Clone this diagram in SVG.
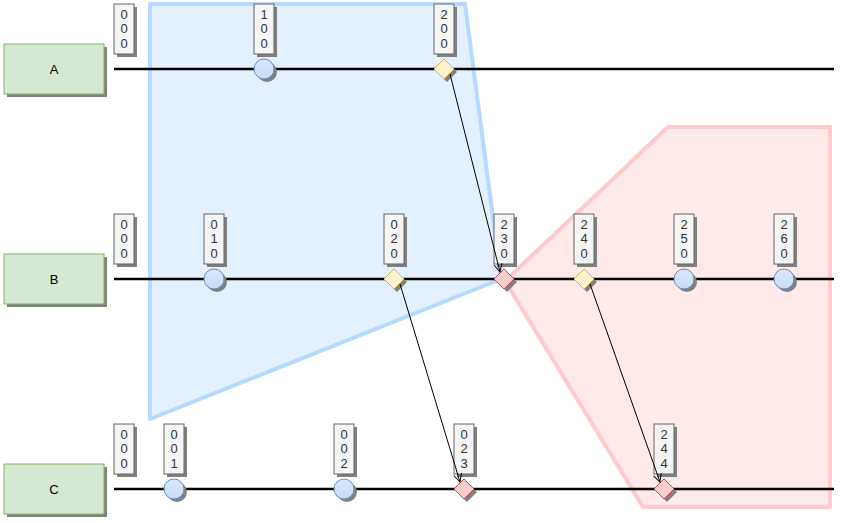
<svg xmlns="http://www.w3.org/2000/svg" width="841" height="523" viewBox="0 0 841 523">
<defs>
<style>
.lane{fill:#d5e8d4;stroke:#82b366;stroke-width:1}
.sh{fill:#808080}
.lab{fill:#f5f5f5;stroke:#666666;stroke-width:1}
.t{font-family:"Liberation Sans",Arial,sans-serif;font-size:13px;fill:#333333;text-anchor:middle}
.tl{font-family:"Liberation Sans",Arial,sans-serif;font-size:13px;fill:#000000;text-anchor:middle}
.tline{stroke:#000000;stroke-width:2.5;fill:none}
.circ{fill:url(#cg);stroke:#6c8ebf;stroke-width:1}
.dy{fill:#fff2cc;stroke:#d6b656;stroke-width:1}
.dr{fill:#f8cecc;stroke:#b85450;stroke-width:1}
.edge{stroke:#000000;stroke-width:1;fill:none}
</style>
<linearGradient id="cg" x1="0" y1="0" x2="0" y2="1">
<stop offset="0" stop-color="#dae8fc"/>
<stop offset="1" stop-color="#c8dbf5"/>
</linearGradient>
<marker id="arr" markerWidth="10" markerHeight="10" refX="9" refY="5" orient="auto" markerUnits="userSpaceOnUse">
<path d="M1,1 L9,5 L1,9" fill="none" stroke="#000" stroke-width="1"/>
</marker>
</defs>
<rect width="841" height="523" fill="#ffffff"/>
<g id="regions">
<polygon id="blueRegion" points="150,4 465,4 501,279 150,419" fill="#e3f1fe" stroke="#b6d9fd" stroke-width="4" stroke-linejoin="round"/>
<polygon id="redRegion" points="668,127 830,127 830,507 643,507 505,281" fill="#ffe9e9" stroke="#ffcaca" stroke-width="4" stroke-linejoin="round"/>
</g>
<g id="laneA">
<rect class="sh" x="7" y="47" width="100" height="50"/>
<rect class="lane" x="4" y="44" width="100" height="50"/>
<text class="tl" x="54" y="74">A</text>
<line class="tline" x1="114" y1="69" x2="834" y2="69"/>
</g>
<g id="laneB">
<rect class="sh" x="7" y="257" width="100" height="50"/>
<rect class="lane" x="4" y="254" width="100" height="50"/>
<text class="tl" x="54" y="284">B</text>
<line class="tline" x1="114" y1="279" x2="834" y2="279"/>
</g>
<g id="laneC">
<rect class="sh" x="7" y="467" width="100" height="50"/>
<rect class="lane" x="4" y="464" width="100" height="50"/>
<text class="tl" x="54" y="494">C</text>
<line class="tline" x1="114" y1="489" x2="834" y2="489"/>
</g>
<!-- Lane A events -->
<g id="A000"><rect class="sh" x="117" y="7" width="20" height="50"/><rect class="lab" x="114" y="4" width="20" height="50"/><text class="t" x="124" y="18.5">0</text><text class="t" x="124" y="33">0</text><text class="t" x="124" y="47.5">0</text></g>
<g id="A100"><rect class="sh" x="257" y="7" width="20" height="50"/><rect class="lab" x="254" y="4" width="20" height="50"/><text class="t" x="264" y="18.5">1</text><text class="t" x="264" y="33">0</text><text class="t" x="264" y="47.5">0</text>
<circle class="sh" cx="267" cy="72" r="10"/><circle class="circ" cx="264" cy="69" r="10"/></g>
<g id="A200"><rect class="sh" x="437" y="7" width="20" height="50"/><rect class="lab" x="434" y="4" width="20" height="50"/><text class="t" x="444" y="18.5">2</text><text class="t" x="444" y="33">0</text><text class="t" x="444" y="47.5">0</text>
<polygon class="sh" points="447,62 457,72 447,82 437,72"/><polygon class="dy" points="444,59 454,69 444,79 434,69"/></g>
<!-- Lane B events -->
<g id="B000"><rect class="sh" x="117" y="217" width="20" height="50"/><rect class="lab" x="114" y="214" width="20" height="50"/><text class="t" x="124" y="228.5">0</text><text class="t" x="124" y="243">0</text><text class="t" x="124" y="257.5">0</text></g>
<g id="B010"><rect class="sh" x="207" y="217" width="20" height="50"/><rect class="lab" x="204" y="214" width="20" height="50"/><text class="t" x="214" y="228.5">0</text><text class="t" x="214" y="243">1</text><text class="t" x="214" y="257.5">0</text>
<circle class="sh" cx="217" cy="282" r="10"/><circle class="circ" cx="214" cy="279" r="10"/></g>
<g id="B020"><rect class="sh" x="387" y="217" width="20" height="50"/><rect class="lab" x="384" y="214" width="20" height="50"/><text class="t" x="394" y="228.5">0</text><text class="t" x="394" y="243">2</text><text class="t" x="394" y="257.5">0</text>
<polygon class="sh" points="397,272 407,282 397,292 387,282"/><polygon class="dy" points="394,269 404,279 394,289 384,279"/></g>
<g id="B230"><rect class="sh" x="497" y="217" width="20" height="50"/><rect class="lab" x="494" y="214" width="20" height="50"/><text class="t" x="504" y="228.5">2</text><text class="t" x="504" y="243">3</text><text class="t" x="504" y="257.5">0</text>
<polygon class="sh" points="507,272 517,282 507,292 497,282"/><polygon class="dr" points="504,269 514,279 504,289 494,279"/></g>
<g id="B240"><rect class="sh" x="577" y="217" width="20" height="50"/><rect class="lab" x="574" y="214" width="20" height="50"/><text class="t" x="584" y="228.5">2</text><text class="t" x="584" y="243">4</text><text class="t" x="584" y="257.5">0</text>
<polygon class="sh" points="587,272 597,282 587,292 577,282"/><polygon class="dy" points="584,269 594,279 584,289 574,279"/></g>
<g id="B250"><rect class="sh" x="677" y="217" width="20" height="50"/><rect class="lab" x="674" y="214" width="20" height="50"/><text class="t" x="684" y="228.5">2</text><text class="t" x="684" y="243">5</text><text class="t" x="684" y="257.5">0</text>
<circle class="sh" cx="687" cy="282" r="10"/><circle class="circ" cx="684" cy="279" r="10"/></g>
<g id="B260"><rect class="sh" x="777" y="217" width="20" height="50"/><rect class="lab" x="774" y="214" width="20" height="50"/><text class="t" x="784" y="228.5">2</text><text class="t" x="784" y="243">6</text><text class="t" x="784" y="257.5">0</text>
<circle class="sh" cx="787" cy="282" r="10"/><circle class="circ" cx="784" cy="279" r="10"/></g>
<!-- Lane C events -->
<g id="C000"><rect class="sh" x="117" y="427" width="20" height="50"/><rect class="lab" x="114" y="424" width="20" height="50"/><text class="t" x="124" y="438.5">0</text><text class="t" x="124" y="453">0</text><text class="t" x="124" y="467.5">0</text></g>
<g id="C001"><rect class="sh" x="167" y="427" width="20" height="50"/><rect class="lab" x="164" y="424" width="20" height="50"/><text class="t" x="174" y="438.5">0</text><text class="t" x="174" y="453">0</text><text class="t" x="174" y="467.5">1</text>
<circle class="sh" cx="177" cy="492" r="10"/><circle class="circ" cx="174" cy="489" r="10"/></g>
<g id="C002"><rect class="sh" x="337" y="427" width="20" height="50"/><rect class="lab" x="334" y="424" width="20" height="50"/><text class="t" x="344" y="438.5">0</text><text class="t" x="344" y="453">0</text><text class="t" x="344" y="467.5">2</text>
<circle class="sh" cx="347" cy="492" r="10"/><circle class="circ" cx="344" cy="489" r="10"/></g>
<g id="C023"><rect class="sh" x="457" y="427" width="20" height="50"/><rect class="lab" x="454" y="424" width="20" height="50"/><text class="t" x="464" y="438.5">0</text><text class="t" x="464" y="453">2</text><text class="t" x="464" y="467.5">3</text>
<polygon class="sh" points="467,482 477,492 467,502 457,492"/><polygon class="dr" points="464,479 474,489 464,499 454,489"/></g>
<g id="C244"><rect class="sh" x="657" y="427" width="20" height="50"/><rect class="lab" x="654" y="424" width="20" height="50"/><text class="t" x="664" y="438.5">2</text><text class="t" x="664" y="453">4</text><text class="t" x="664" y="467.5">4</text>
<polygon class="sh" points="667,482 677,492 667,502 657,492"/><polygon class="dr" points="664,479 674,489 664,499 654,489"/></g>
<g id="connectors">
<line class="edge" x1="450" y1="74" x2="500" y2="272" marker-end="url(#arr)"/>
<line class="edge" x1="400" y1="284" x2="460" y2="482" marker-end="url(#arr)"/>
<line class="edge" x1="590" y1="284" x2="660" y2="482" marker-end="url(#arr)"/>
</g>
</svg>
